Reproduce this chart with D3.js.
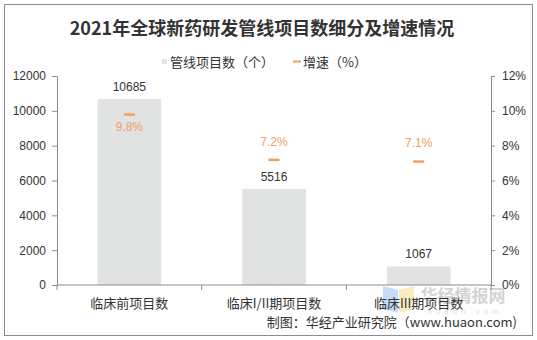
<!DOCTYPE html>
<html><head><meta charset="utf-8">
<script src="https://cdn.jsdelivr.net/npm/d3@7/dist/d3.min.js"></script>
<style>body{margin:0;background:#fff}svg{display:block}</style>
</head><body>
<script>
const categories = ["临床前项目数", "临床I/II期项目数", "临床III期项目数"];
const counts = [10685, 5516, 1067];
const growth = [9.8, 7.2, 7.1];
const leftTicks = [0, 2000, 4000, 6000, 8000, 10000, 12000];
const rightTicks = [0, 2, 4, 6, 8, 10, 12];
const title = "2021年全球新药研发管线项目数细分及增速情况";
const legendLabels = ["管线项目数（个）", "增速（%）"];
const source = "制图：华经产业研究院（www.huaon.com)";
const watermark = ["华经情报网", "huaon.com"];

const W = 537, H = 340;
const m = {left: 57, right: 46, top: 76, bottom: 55};
const svg = d3.select("body").append("svg").attr("width", W).attr("height", H);
const cjk = "'Noto Sans CJK SC', 'Liberation Sans', sans-serif";
const num = "'Liberation Sans', Arial, sans-serif";
const axisColor = "#8c8c8c";
const barColor = "#e1e2e2";
const orange = "#f0a062";

svg.append("rect").attr("x", 4.5).attr("y", 4.5).attr("width", 528).attr("height", 331)
  .attr("fill", "#fff").attr("stroke", "#8c8c8c");

svg.append("text").attr("x", 262).attr("y", 35).attr("text-anchor", "middle")
  .attr("font-family", cjk).attr("font-weight", "bold").attr("font-size", 18)
  .attr("fill", "#333").text(title);

// legend
const lg = svg.append("g").attr("font-family", cjk).attr("font-size", 13).attr("fill", "#333");
lg.append("rect").attr("x", 162).attr("y", 59).attr("width", 5).attr("height", 5).attr("fill", barColor);
lg.append("text").attr("x", 170).attr("y", 66.5).text(legendLabels[0]);
lg.append("rect").attr("x", 293).attr("y", 60.5).attr("width", 8).attr("height", 2).attr("fill", orange);
lg.append("text").attr("x", 303).attr("y", 66.5).text(legendLabels[1]);

const x = d3.scaleBand().domain(categories).range([m.left, W - m.right]).paddingInner(0.56).paddingOuter(0.28);
const y = d3.scaleLinear().domain([0, 12000]).range([H - m.bottom, m.top]);
const y2 = d3.scaleLinear().domain([0, 12]).range([H - m.bottom, m.top]);

// watermark
const wm = svg.append("g").attr("opacity", 0.5);
wm.append("path").attr("d", "M383,286 L398,290 L398,313 L383,309 Z").attr("fill", "#8fb9f0");
wm.append("path").attr("d", "M399,290 L414,286 L414,309 L399,313 Z").attr("fill", "#f5dc80");
wm.append("text").attr("x", 463).attr("y", 302).attr("text-anchor", "middle").attr("font-family", cjk).attr("font-weight", "bold")
  .attr("font-size", 17).attr("fill", "#a8a8a8").text(watermark[0]);
wm.append("text").attr("x", 465).attr("y", 314).attr("text-anchor", "middle").attr("font-family", num).attr("font-size", 8)
  .attr("letter-spacing", 4).attr("fill", "#bbbbbb").text(watermark[1]);

// bars
svg.append("g").selectAll("rect").data(categories).join("rect")
  .attr("x", d => x(d)).attr("width", x.bandwidth())
  .attr("y", (d, i) => y(counts[i])).attr("height", (d, i) => y(0) - y(counts[i]))
  .attr("fill", barColor);

// axes
const ax = svg.append("g").attr("transform", `translate(${m.left},0)`)
  .call(d3.axisLeft(y).tickValues(leftTicks).tickSize(5).tickPadding(6).tickFormat(d3.format("d")));
const ax2 = svg.append("g").attr("transform", `translate(${W - m.right},0)`)
  .call(d3.axisRight(y2).tickValues(rightTicks).tickSize(4).tickPadding(7).tickFormat(d => d + "%"));
const bx = svg.append("g").attr("transform", `translate(0,${H - m.bottom})`);
bx.append("line").attr("x1", m.left).attr("x2", W - m.right).attr("stroke", axisColor);
const bounds = d3.range(categories.length + 1).map(i => m.left + i * (W - m.left - m.right) / categories.length);
bx.selectAll("line.t").data(bounds).join("line").attr("class", "t")
  .attr("x1", d => d).attr("x2", d => d).attr("y1", 0).attr("y2", 5).attr("stroke", axisColor);
bx.selectAll("text").data(categories).join("text")
  .attr("x", d => x(d) + x.bandwidth() / 2).attr("y", 23).attr("text-anchor", "middle")
  .attr("font-family", cjk).attr("font-size", 13).attr("fill", "#333").text(d => d);

[ax, ax2].forEach(a => {
  a.select(".domain").attr("stroke", axisColor);
  a.selectAll(".tick line").attr("stroke", axisColor);
  a.selectAll(".tick text").attr("font-family", num).attr("font-size", 12).attr("fill", "#333");
});

// bar labels
svg.append("g").selectAll("text").data(categories).join("text")
  .attr("x", d => x(d) + x.bandwidth() / 2).attr("y", (d, i) => y(counts[i]) - 8)
  .attr("text-anchor", "middle").attr("font-family", num).attr("font-size", 12).attr("fill", "#333")
  .text((d, i) => counts[i]);

// growth markers
svg.append("g").selectAll("rect").data(categories).join("rect")
  .attr("x", d => x(d) + x.bandwidth() / 2 - 5.5).attr("width", 11)
  .attr("y", (d, i) => y2(growth[i]) - 1).attr("height", 2.5).attr("fill", orange);
svg.append("g").selectAll("text").data(categories).join("text")
  .attr("x", d => x(d) + x.bandwidth() / 2)
  .attr("y", (d, i) => y2(growth[i]) > y(counts[i]) ? y2(growth[i]) + 17 : y2(growth[i]) - 14)
  .attr("text-anchor", "middle").attr("font-family", num).attr("font-size", 12).attr("fill", orange)
  .text((d, i) => growth[i].toFixed(1) + "%");

// source
svg.append("text").attr("x", 517).attr("y", 327).attr("text-anchor", "end")
  .attr("font-family", cjk).attr("font-size", 13).attr("fill", "#333").text(source);
</script>
</body></html>
